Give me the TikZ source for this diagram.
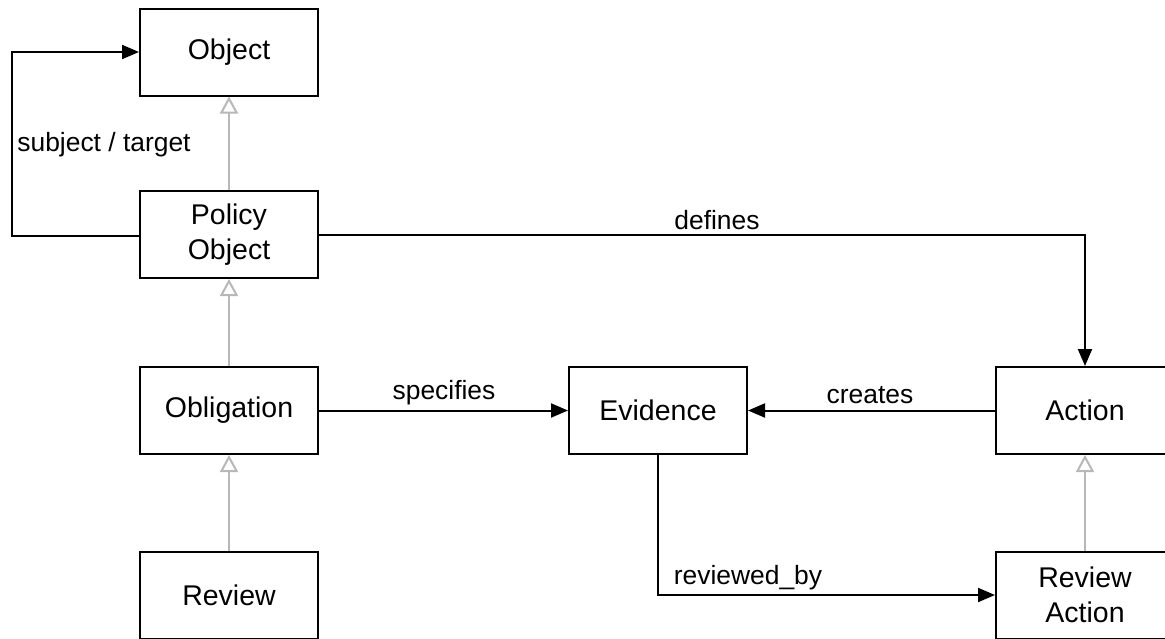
\documentclass[tikz,border=0pt]{standalone}
\usepackage{fontspec}
\setmainfont{Liberation Sans}
\usetikzlibrary{arrows.meta}
\begin{document}
\begin{tikzpicture}[x=1pt,y=-1pt,
  cls/.style={draw=black, line width=2pt, fill=white, minimum width=178pt, minimum height=87pt,
    inner sep=0pt, align=center, font=\fontsize{28.5}{35}\selectfont},
  assoc/.style={draw=black, line width=2pt, -{Triangle[length=17pt,width=14pt]}},
  isa/.style={draw=black!28, line width=2pt, -{Triangle[open,length=17pt,width=18pt,line width=2pt]}},
  lbl/.style={font=\fontsize{26.4}{30}\selectfont, inner sep=0pt}]
  \clip (0,0) rectangle (1165,638);
  \fill[white] (0,0) rectangle (1165,638);

  % classes
  \node[cls] (obj)  at (229,52)    {Object};
  \node[cls] (pol)  at (229,234.5) {Policy\\Object};
  \node[cls] (obl)  at (229,410.5) {Obligation};
  \node[cls] (rev)  at (229,595)   {Review};
  \node[cls] (evi)  at (658,410.5) {Evidence};
  \node[cls] (act)  at (1085,410.5){Action};
  \node[cls] (ract) at (1085,595)  {Review\\Action};

  % generalisation
  \draw[isa] (pol.north) -- (obj.south);
  \draw[isa] (obl.north) -- (pol.south);
  \draw[isa] (rev.north) -- (obl.south);
  \draw[isa] (ract.north) -- (act.south);

  % associations
  \coordinate (st) at (12,236);
  \draw[assoc] (pol.west |- st) -- (st) |- (obj.west);
  \draw[assoc] (pol.east) -| (act.north);
  \draw[assoc] (obl.east) -- (evi.west);
  \draw[assoc] (act.west) -- (evi.east);
  \draw[assoc] (evi.south) |- (ract.west);

  % association labels
  \node[lbl] (lst) at (104,145) {subject / target};
  \node[lbl] (ldef) at (717,220) {defines};
  \node[lbl] (lspec) at (444,393) {specifies};
  \node[lbl] (lcre) at (870,395) {creates};
  \node[lbl] (lrev) at (748,578) {reviewed\_by};
\end{tikzpicture}
\end{document}
